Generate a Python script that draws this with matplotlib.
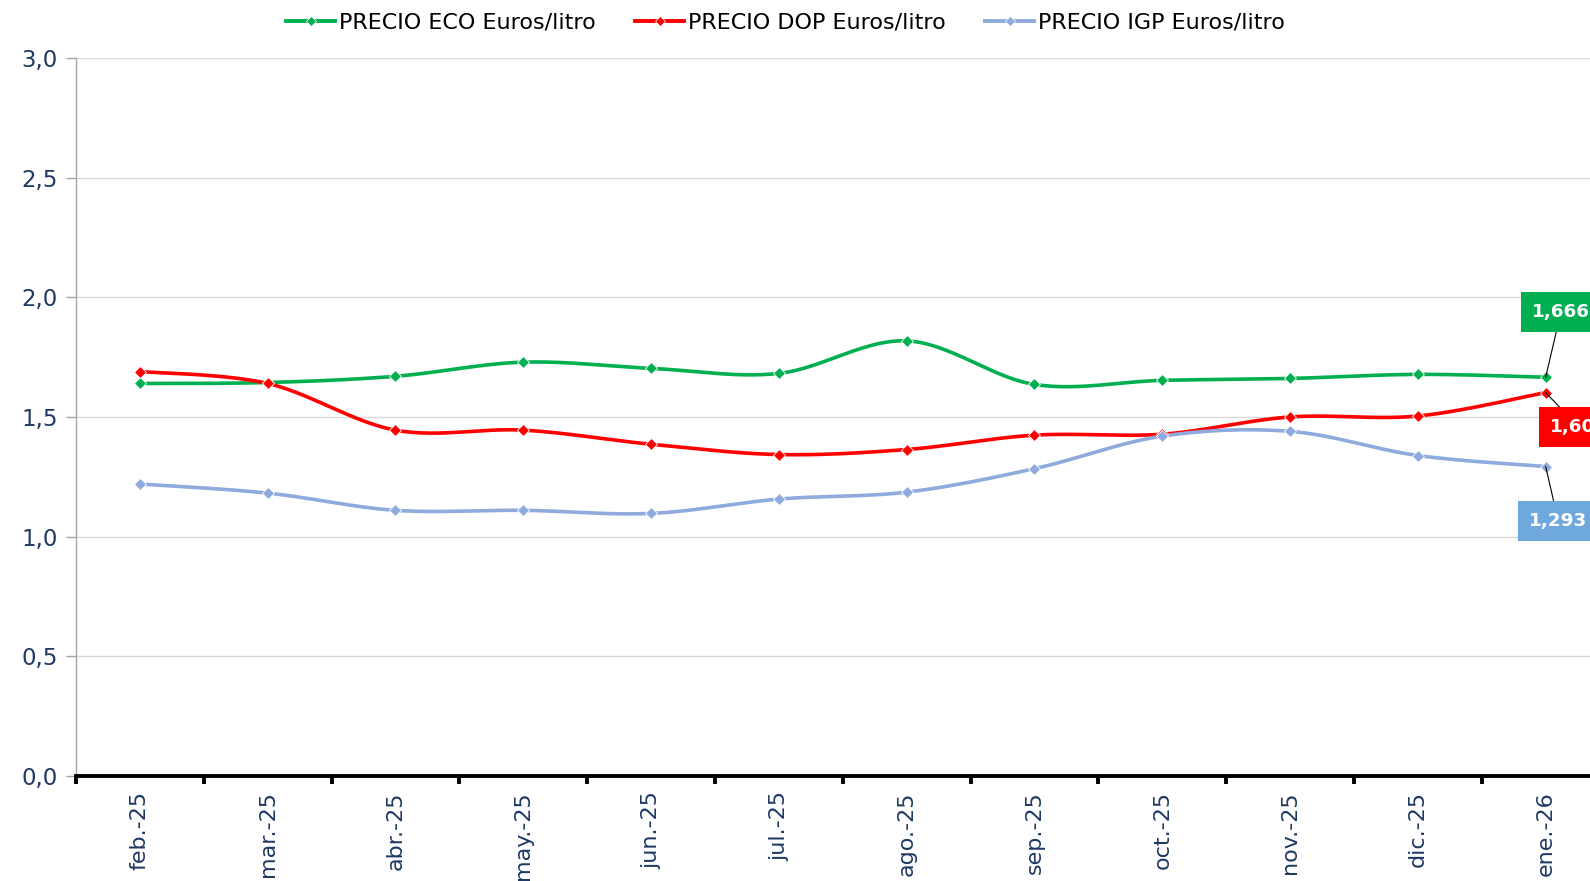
import numpy as np
import matplotlib
matplotlib.use("Agg")
import matplotlib.pyplot as plt
from matplotlib.lines import Line2D

months = ["feb.-25", "mar.-25", "abr.-25", "may.-25", "jun.-25", "jul.-25",
          "ago.-25", "sep.-25", "oct.-25", "nov.-25", "dic.-25", "ene.-26"]
eco = [1.640, 1.644, 1.670, 1.729, 1.703, 1.682, 1.818, 1.636, 1.653, 1.661, 1.678, 1.666]
dop = [1.690, 1.640, 1.445, 1.445, 1.386, 1.343, 1.364, 1.424, 1.428, 1.500, 1.504, 1.602]
igp = [1.220, 1.182, 1.110, 1.110, 1.097, 1.157, 1.186, 1.284, 1.420, 1.440, 1.339, 1.293]
series_names = ["PRECIO ECO Euros/litro", "PRECIO DOP Euros/litro", "PRECIO IGP Euros/litro"]
last_labels = ["1,666", "1,602", "1,293"]

colors = ["#00B050", "#FF0000", "#8FAADC"]
label_bg = ["#00B050", "#FF0000", "#6FA8DC"]
navy = "#1F3864"


def smooth(x, y, n=30):
    x = np.asarray(x, float); y = np.asarray(y, float)
    P = np.column_stack([x, y])
    Pext = np.vstack([P[0], P, P[-1]])
    out = []
    t = np.linspace(0, 1, n)[:, None]
    for i in range(len(P) - 1):
        p0, p1, p2, p3 = Pext[i], Pext[i + 1], Pext[i + 2], Pext[i + 3]
        c1 = p1 + (p2 - p0) / 6.0
        c2 = p2 - (p3 - p1) / 6.0
        seg = ((1 - t) ** 3) * p1 + 3 * ((1 - t) ** 2) * t * c1 + 3 * (1 - t) * t ** 2 * c2 + t ** 3 * p2
        out.append(seg if i == 0 else seg[1:])
    s = np.vstack(out)
    return s[:, 0], s[:, 1]


fig = plt.figure(figsize=(15.9, 8.81), dpi=100)
ax = fig.add_axes([0.0478, 0.1192, 0.9645, 0.8150])

x = np.arange(len(months))
for vals, c in zip([eco, dop, igp], colors):
    xs, ys = smooth(x, vals)
    ax.plot(xs, ys, color=c, lw=2.6, solid_capstyle="round", zorder=3)
    ax.plot(x, vals, ls="none", marker="D", ms=6.5, color=c,
            markeredgecolor="white", markeredgewidth=0.6, zorder=4)

ax.set_xlim(-0.5, len(months) - 0.5)
ax.set_ylim(0, 3.0)
ax.set_yticks(np.arange(0, 3.01, 0.5))
ax.set_yticklabels([f"{v:.1f}".replace(".", ",") for v in np.arange(0, 3.01, 0.5)])
ax.yaxis.grid(True, color="#D9D9D9", lw=1.0, zorder=0)
ax.set_axisbelow(True)

ax.set_xticks(x)
ax.set_xticklabels(months, rotation=90, fontsize=16, color=navy)
ax.tick_params(axis="x", which="major", length=0, pad=11)
ax.set_xticks(np.arange(-0.5, len(months) + 0.5, 1), minor=True)
ax.tick_params(axis="x", which="minor", length=6, width=2.8, color="black")
ax.tick_params(axis="y", length=7, width=1, color="#A6A6A6", labelsize=16.5,
               labelcolor=navy, pad=6)

for s in ["top", "right"]:
    ax.spines[s].set_visible(False)
ax.spines["left"].set_color("#A6A6A6")
ax.spines["left"].set_linewidth(1)
ax.spines["bottom"].set_color("black")
ax.spines["bottom"].set_linewidth(2.8)

offsets = [(11, 47), (24, -25), (9, -39)]
for vals, bg, lab, off in zip([eco, dop, igp], label_bg, last_labels, offsets):
    ax.annotate(lab, xy=(x[-1], vals[-1]), xytext=off, textcoords="offset points",
                ha="center", va="center", color="white", fontsize=13.2,
                fontweight="bold", annotation_clip=False,
                bbox=dict(boxstyle="square,pad=0.6", fc=bg, ec="none"),
                arrowprops=dict(arrowstyle="-", color="black", lw=0.8,
                                shrinkA=0, shrinkB=0), zorder=5)

handles = [Line2D([0], [0], color=c, lw=2.8, marker="D", ms=5.5,
                  markeredgecolor="white", markeredgewidth=0.5) for c in colors]
fig.legend(handles, series_names, loc="upper center", bbox_to_anchor=(0.494, 1.008),
           ncol=3, frameon=False, fontsize=16, handlelength=2.2,
           handletextpad=0.15, columnspacing=1.8)

fig.savefig("out.png", dpi=100)
